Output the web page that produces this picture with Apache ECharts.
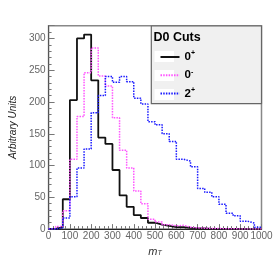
<!DOCTYPE html>
<html>
<head>
<meta charset="utf-8">
<script src="https://cdn.jsdelivr.net/npm/echarts@6/dist/echarts.min.js"></script>
<style>
html,body{margin:0;padding:0;background:#fff;}
#c{width:276px;height:262px;}
</style>
</head>
<body>
<div id="c"></div>
<script>
// ---- data (30 bins of m_T from 0 to 1000) ----
var binCount = 30;
var xMin = 0, xMax = 1000;
var seriesNames = ['0+', '0-', '2+'];
var valsScalar0p = [0.5, 3, 47, 203, 300, 306, 234, 144, 134, 93, 53, 35, 22, 17.5, 10, 7, 5, 3, 3, 2, 1, 1, 0.5, 0.5, 0.3, 0.2, 0.2, 0.1, 0.1, 0];
var valsPseudo0m = [0.5, 4, 29, 110, 177, 246, 285, 241, 225, 175, 124, 96, 60, 40, 15.5, 11, 7, 5, 6, 3, 2, 1.5, 1, 1, 0.5, 0.5, 0.3, 0.2, 0.1, 0.1];
var valsTensor2p = [0, 2, 17.5, 51, 96, 126, 183, 210, 240, 231, 240, 232, 206, 197, 169, 164, 150, 138, 110, 107, 98, 64, 58, 51, 39, 25, 21, 12.5, 9.5, 3];
var xTicks = [0, 100, 200, 300, 400, 500, 600, 700, 800, 900, 1000];
var yTicks = [0, 50, 100, 150, 200, 250, 300];
var legendTitle = 'D0 Cuts';
var xTitle = 'm';
var xTitleSub = 'T';
var yTitle = 'Arbitrary Units';

function histPoints(vals) {
  var w = (xMax - xMin) / binCount;
  var pts = [];
  for (var i = 0; i < vals.length; i++) pts.push([xMin + i * w, vals[i]]);
  pts.push([xMax, vals[vals.length - 1]]);
  return pts;
}

var chart = echarts.init(document.getElementById('c'), null, {renderer: 'canvas'});
var labelFont = 'Liberation Sans';
var supRich = {
  b: {fontSize: 11.5, fontWeight: 'bold', color: '#000', fontFamily: labelFont, lineHeight: 14},
  s: {fontSize: 7, fontWeight: 'bold', color: '#000', fontFamily: labelFont, verticalAlign: 'top', lineHeight: 8}
};

var option = {
  animation: false,
  backgroundColor: '#fff',
  grid: {left: 40.7, top: 25.7, right: 14.5, bottom: 26.3, show: true, borderColor: '#888', borderWidth: 1.5, backgroundColor: 'transparent'},
  xAxis: {
    type: 'value', min: xMin, max: xMax, interval: 100,
    axisLine: {show: true, onZero: false, lineStyle: {color: '#222', width: 1}},
    axisTick: {show: true, inside: true, length: 5, lineStyle: {color: '#777'}},
    minorTick: {show: true, splitNumber: 5, length: 3, lineStyle: {color: '#777'}},
    splitLine: {show: false},
    axisLabel: {color: '#666', fontSize: 10, fontFamily: labelFont, margin: 2,
      formatter: function (v) { return xTicks.indexOf(v) >= 0 ? String(v) : ''; }},
    name: '{m|' + xTitle + '}{t|' + xTitleSub + '}',
    nameLocation: 'middle', nameGap: 14,
    nameTextStyle: {rich: {
      m: {fontSize: 11, fontStyle: 'italic', color: '#333', fontFamily: labelFont},
      t: {fontSize: 7, fontStyle: 'italic', color: '#333', fontFamily: labelFont, verticalAlign: 'bottom', padding: [4, 0, 0, 0]}
    }}
  },
  yAxis: {
    type: 'value', min: 0, max: 320, interval: 50,
    axisLine: {show: true, lineStyle: {color: '#555', width: 1}},
    axisTick: {show: true, inside: true, length: 6, lineStyle: {color: '#777'}},
    minorTick: {show: true, splitNumber: 5, length: 3, lineStyle: {color: '#777'}},
    splitLine: {show: false},
    axisLabel: {color: '#666', fontSize: 10, fontFamily: labelFont, margin: 3, showMaxLabel: false,
      formatter: function (v) { return yTicks.indexOf(v) >= 0 ? String(v) : ''; }},
    name: yTitle, nameLocation: 'middle', nameGap: 28,
    nameTextStyle: {fontSize: 10, fontStyle: 'italic', color: '#222', fontFamily: labelFont}
  },
  legend: {
    show: true, orient: 'vertical', left: 154.5, top: 45, z: 30,
    itemWidth: 19, itemHeight: 14, itemGap: 5.2,
    data: seriesNames,
    itemStyle: {opacity: 0},
    formatter: function (n) { return '{b|' + n.charAt(0) + '}{s|' + n.charAt(1) + '}'; },
    textStyle: {rich: supRich, padding: [0, 0, 0, 0]},
    selectedMode: false
  },
  graphic: [
    {type: 'rect', z: 10, shape: {x: 151.3, y: 26, width: 110.2, height: 77.7},
      style: {fill: '#f0f0f0', stroke: '#666', lineWidth: 1.2}},
    {type: 'rect', z: 11, shape: {x: 154.5, y: 51, width: 19.5, height: 11}, style: {fill: '#fff'}},
    {type: 'rect', z: 11, shape: {x: 154.5, y: 70, width: 19.5, height: 11}, style: {fill: '#fff'}},
    {type: 'rect', z: 11, shape: {x: 154.5, y: 89, width: 19.5, height: 11}, style: {fill: '#fff'}},
    {type: 'text', z: 12, left: 153.5, top: 31.5,
      style: {text: legendTitle, fontSize: 12.5, fontWeight: 'bold', fill: '#000', fontFamily: labelFont}}
  ],
  series: [
    {name: seriesNames[0], type: 'line', step: 'end', symbol: 'none', data: histPoints(valsScalar0p),
      lineStyle: {color: '#111', width: 1.8}, itemStyle: {color: '#111'}, z: 3},
    {name: seriesNames[1], type: 'line', step: 'end', symbol: 'none', data: histPoints(valsPseudo0m),
      lineStyle: {color: '#ff55ff', width: 1.5, type: [1.5, 1.2]}, itemStyle: {color: '#ff55ff'}, z: 4},
    {name: seriesNames[2], type: 'line', step: 'end', symbol: 'none', data: histPoints(valsTensor2p),
      lineStyle: {color: '#1a1aff', width: 1.5, type: [1.5, 1.2]}, itemStyle: {color: '#1a1aff'}, z: 5}
  ]
};
chart.setOption(option);
</script>
</body>
</html>
